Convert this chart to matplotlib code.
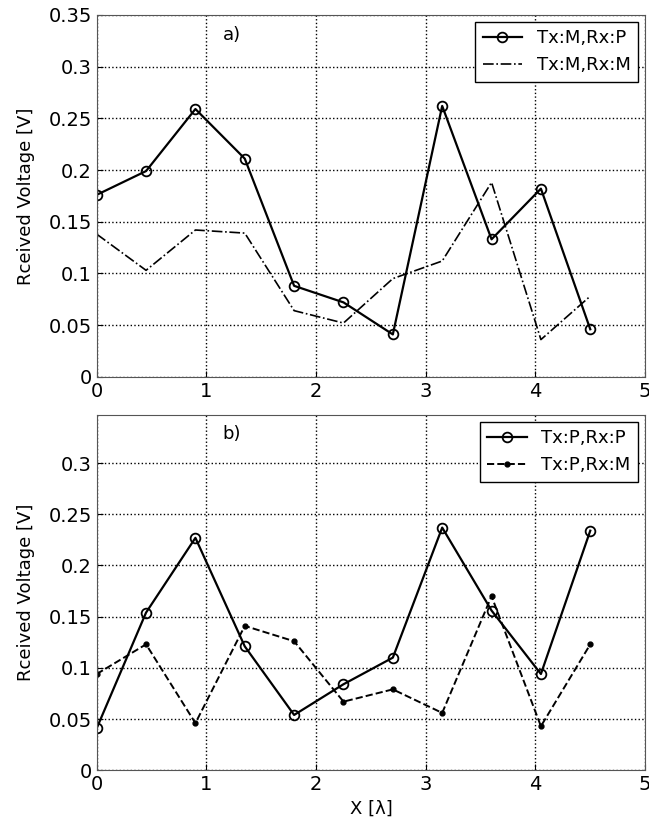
import matplotlib.pyplot as plt

x = [0, 0.45, 0.9, 1.35, 1.8, 2.25, 2.7, 3.15, 3.6, 4.05, 4.5]

# panel a)
m_p = [0.176, 0.199, 0.259, 0.211, 0.088, 0.072, 0.041, 0.262, 0.133, 0.182, 0.046]
m_m = [0.138, 0.103, 0.142, 0.139, 0.064, 0.052, 0.095, 0.112, 0.188, 0.036, 0.078]

# panel b)
p_p = [0.041, 0.154, 0.227, 0.121, 0.054, 0.084, 0.110, 0.237, 0.156, 0.094, 0.234]
p_m = [0.094, 0.123, 0.046, 0.141, 0.126, 0.067, 0.079, 0.056, 0.170, 0.043, 0.123]

yticks = [0, 0.05, 0.1, 0.15, 0.2, 0.25, 0.3, 0.35]
yticklabels = ['0', '0.05', '0.1', '0.15', '0.2', '0.25', '0.3', '0.35']

plt.rcParams['font.family'] = 'DejaVu Sans'
fig = plt.figure(figsize=(6.49, 8.30), dpi=100)
ax1 = fig.add_axes([0.149, 0.546, 0.845, 0.436])
ax2 = fig.add_axes([0.149, 0.072, 0.845, 0.428])

ax1.plot(x, m_p, '-', color='black', lw=1.6, marker='o', markersize=7,
         markerfacecolor='none', markeredgewidth=1.3, label='Tx:M,Rx:P')
ax1.plot(x, m_m, '-.', color='black', lw=1.2, label='Tx:M,Rx:M')
ax1.set_yticks(yticks)
ax1.set_yticklabels(yticklabels)
ax1.set_ylim(0, 0.35)
ax1.text(1.15, 0.331, 'a)', fontsize=13, va='center')

ax2.plot(x, p_p, '-', color='black', lw=1.6, marker='o', markersize=7,
         markerfacecolor='none', markeredgewidth=1.3, label='Tx:P,Rx:P')
ax2.plot(x, p_m, '--', color='black', lw=1.4, marker='o', markersize=3.5,
         label='Tx:P,Rx:M')
ax2.set_yticks(yticks[:-1])
ax2.set_yticklabels(yticklabels[:-1])
ax2.set_ylim(0, 0.347)
ax2.text(1.15, 0.328, 'b)', fontsize=13, va='center')
ax2.set_xlabel('X [λ]', fontsize=13)

for ax in (ax1, ax2):
    ax.set_xlim(0, 5)
    ax.set_xticks([0, 1, 2, 3, 4, 5])
    ax.tick_params(labelsize=14, direction='in', length=4)
    ax.grid(True, linestyle=':', color='black', lw=1.0)
    ax.set_ylabel('Rceived Voltage [V]', fontsize=13, labelpad=10)
    for s in ax.spines.values():
        s.set_color('#555555')
    ax.legend(loc='upper right', fontsize=13, fancybox=False, edgecolor='black',
              framealpha=1, borderaxespad=0.4, handlelength=2.2)

fig.savefig('out.png')
